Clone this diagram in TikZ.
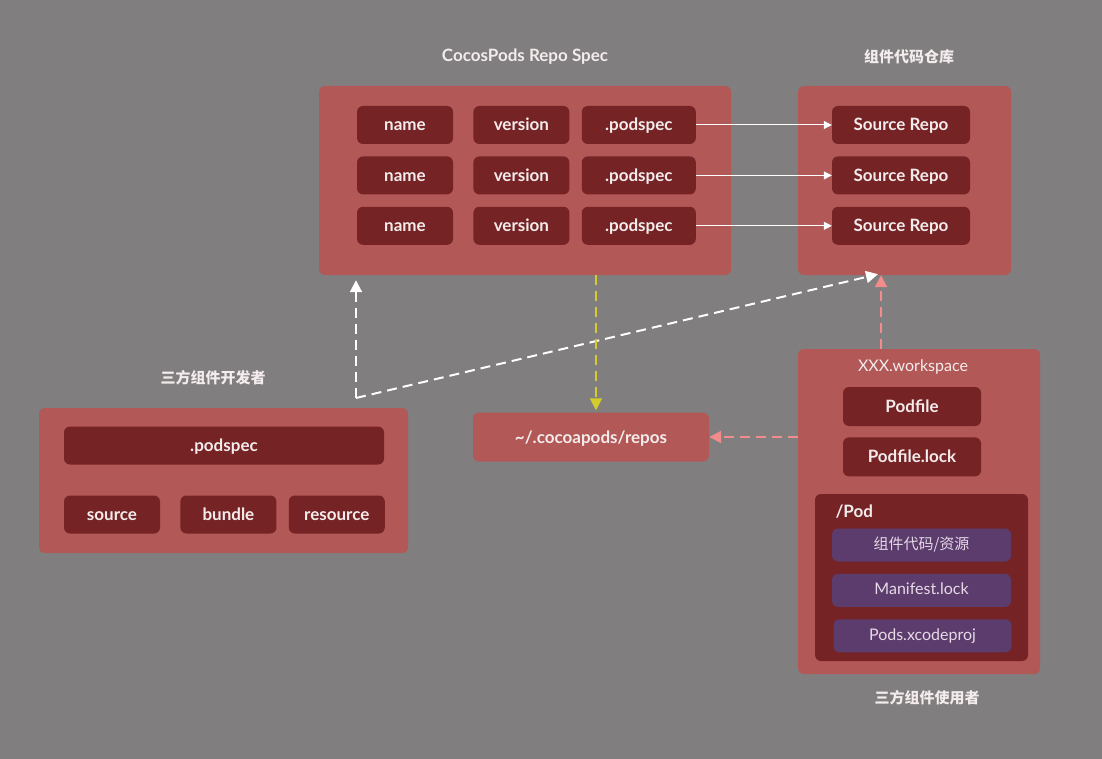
\documentclass[tikz,border=0pt]{standalone}
\usepackage{fontspec}
\setmainfont{Lato}
\newfontfamily\cjk{Noto Sans CJK SC}
\usetikzlibrary{positioning,arrows.meta}

\definecolor{bggray}{HTML}{807E7F}
\definecolor{boxred}{HTML}{B25856}
\definecolor{cellred}{HTML}{752325}
\definecolor{cellpurple}{HTML}{5C3C6C}
\definecolor{txtwhite}{HTML}{F4ECEC}
\definecolor{txtlilac}{HTML}{E6DAE8}
\definecolor{dashpink}{HTML}{F08C8C}
\definecolor{dashyellow}{HTML}{D4CB2C}

\tikzset{
  panel/.style={fill=boxred, rounded corners=6pt, inner sep=0pt},
  cell/.style={fill=cellred, rounded corners=6pt, text=txtwhite, inner sep=0pt,
    text height=14pt, text depth=2pt,
    font=\bfseries\fontsize{17}{19}\selectfont, minimum height=38pt, minimum width=96pt},
  pcell/.style={cell, fill=cellpurple, text=txtlilac, font=\fontsize{16}{18}\selectfont,
    text height=11pt, text depth=2.4pt, minimum height=33pt, minimum width=179pt},
  title/.style={text=txtwhite, font=\bfseries\fontsize{17}{19}\selectfont},
  cjktitle/.style={text=txtwhite, font=\cjk\bfseries\fontsize{15}{17}\selectfont},
  link/.style={draw=white, line width=1pt, -{Triangle[length=8pt,width=8pt]}},
  flow/.style={line width=2pt, dash pattern=on 10pt off 6pt, -{Triangle[length=12pt,width=12pt]}},
}

\begin{document}
\begin{tikzpicture}[x=1pt,y=-1pt]
  \fill[bggray] (0,0) rectangle (1102,759);
  \useasboundingbox (0,0) rectangle (1102,759);

  % CocosPods Repo Spec
  \node[panel, minimum width=412pt, minimum height=189pt] (spec) at (525,180.5) {};
  \node[title] (spectitle) at (525,57) {CocosPods Repo Spec};
  \node[cell] (name1) at (405,125) {name};
  \node[cell, right=20pt of name1] (version1) {version};
  \node[cell, right=12pt of version1, minimum width=114pt] (podspec1) {.podspec};
  \node[cell, below=12pt of name1] (name2) {name};
  \node[cell, right=20pt of name2] (version2) {version};
  \node[cell, right=12pt of version2, minimum width=114pt] (podspec2) {.podspec};
  \node[cell, below=12pt of name2] (name3) {name};
  \node[cell, right=20pt of name3] (version3) {version};
  \node[cell, right=12pt of version3, minimum width=114pt] (podspec3) {.podspec};

  % component source repos
  \node[panel, minimum width=213pt, minimum height=189pt] (repo) at (904.5,180.5) {};
  \node[cjktitle] (repotitle) at (909,57) {组件代码仓库};
  \foreach \i in {1,2,3}
    \node[cell, minimum width=138pt] (src\i) at (podspec\i -| 901,0) {Source Repo};
  \foreach \i in {1,2,3}
    \draw[link] (podspec\i.east) -- (src\i.west);

  % third-party developer
  \node[panel, minimum width=369pt, minimum height=145pt] (dev) at (223.5,480.5) {};
  \node[cjktitle] (devtitle) at (213,378) {三方组件开发者};
  \node[cell, minimum width=320pt] (devspec) at (224,445.5) {.podspec};
  \node[cell] (source) at (112,514.5) {source};
  \node[cell, right=20pt of source] (bundle) {bundle};
  \node[cell, right=12pt of bundle] (resource) {resource};

  % local repos
  \node[panel, minimum width=236pt, minimum height=49pt, text=txtwhite,
    text height=14pt, text depth=2pt,
    font=\bfseries\fontsize{17}{19}\selectfont] (repos) at (591,437) {\textasciitilde/.cocoapods/repos};

  % third-party user
  \node[panel, minimum width=242pt, minimum height=325pt] (user) at (919,511.5) {};
  \node[text=txtwhite, font=\fontsize{16}{18}\selectfont] (ws) at (913,367) {XXX.workspace};
  \node[cell, minimum width=138pt, minimum height=39pt] (podfile) at (912,406.5) {Podfile};
  \node[cell, minimum width=138pt, minimum height=39pt, below=11pt of podfile] (podlock) {Podfile.lock};
  \node[cell, minimum width=213pt, minimum height=167pt] (pod) at (921.5,577.5) {};
  \node[title, anchor=west] (podlabel) at (832,512) {/Pod};
  \node[pcell, font=\cjk\fontsize{15}{17}\selectfont] (code) at (921.5,545) {组件代码/资源};
  \node[pcell, below=12pt of code] (manifest) {Manifest.lock};
  \node[pcell, below=12pt of manifest, xshift=1pt, minimum width=178pt] (xcproj) {Pods.xcodeproj};
  \node[cjktitle] (usertitle) at (927,698) {三方组件使用者};

  % flows
  \coordinate (devcorner) at (356,398);
  \coordinate (userout) at ([xshift=-38pt]user.north);
  \draw[flow, white, shorten >=5pt] (devcorner) -- (spec.south -| devcorner);
  \draw[flow, white] (devcorner) -- ([xshift=-26.5pt,yshift=1pt]repo.south);
  \draw[flow, dashyellow, shorten >=2pt] ([xshift=71pt]spec.south) -- ([xshift=5pt]repos.north);
  \draw[flow, dashpink] (user.west |- repos.east) -- (repos.east);
  \draw[flow, dashpink] (userout) -- (repo.south -| userout);
\end{tikzpicture}
\end{document}
